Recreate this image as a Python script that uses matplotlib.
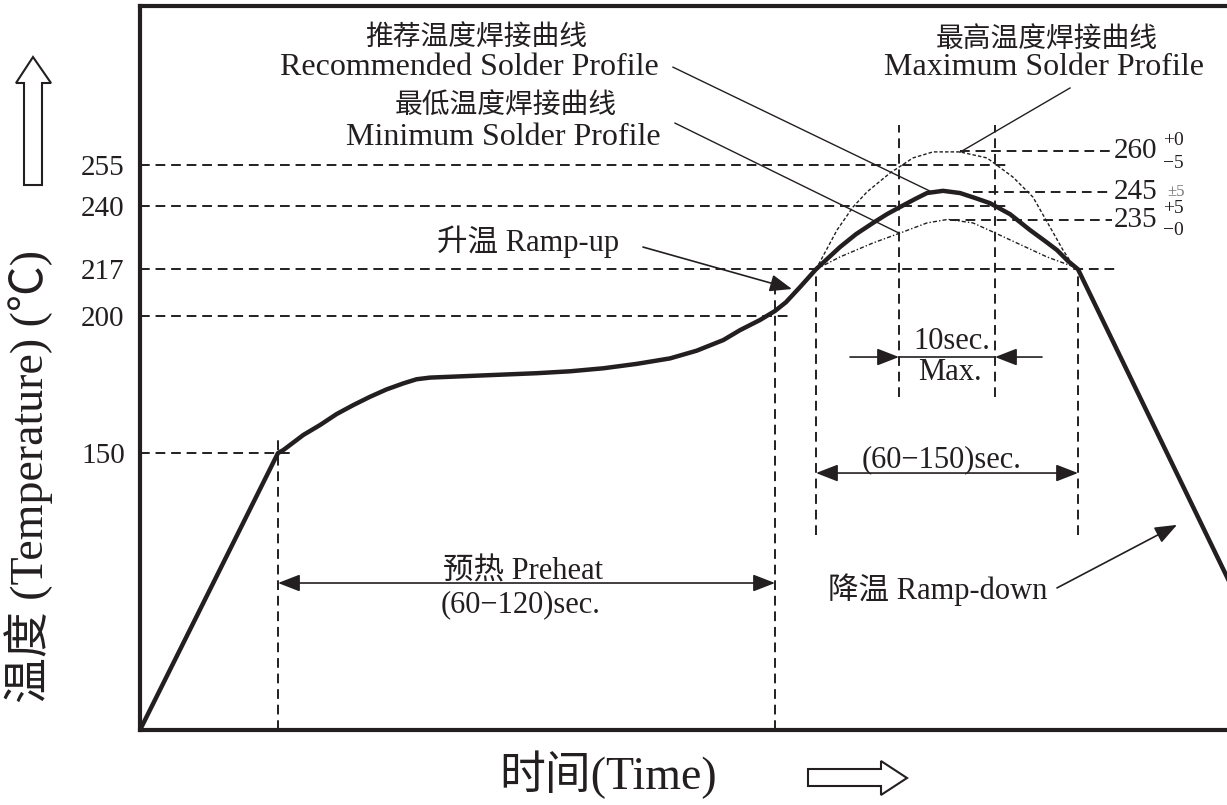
import matplotlib

matplotlib.use("Agg")
import matplotlib.pyplot as plt
import matplotlib.transforms as mtransforms
from matplotlib.patches import Polygon

plt.rcParams["font.family"] = ["Liberation Serif", "Noto Sans CJK SC"]

INK = "#231f20"

# recommended profile (time units are schematic, temperature in degC)
rec_t = [0, 69, 71.7, 81.7, 90, 98.3, 106.7, 115, 123.3, 131.7, 138.3, 145,
         165, 198.3, 215, 231.7, 248.3, 265, 278.3, 291.7, 300, 310, 317.5,
         323, 330, 338, 350, 358, 366.5, 373.5, 380, 387.5, 393.5, 401.5, 410,
         417.5, 425, 435, 445, 452.5, 458.5, 464, 469, 543.5, 580]
rec_T = [49, 150, 151.1, 156.6, 160.2, 164.2, 167.5, 170.5, 173.2, 175.4, 176.9,
         177.5, 178.1, 179.1, 179.8, 180.9, 182.5, 184.5, 187.3, 191.2, 194.8,
         198.5, 201.8, 205.0, 210.5, 217, 225.1, 229.8, 233.9, 237.1, 239.7,
         242.6, 244.8, 245.6, 244.8, 243.0, 241.1, 237.1, 231.3, 227.3, 224.0,
         220.0, 217, 104.8, 49]

# maximum profile
max_t = [338, 348.5, 356.5, 363.5, 375, 386.5, 396.5, 410, 423.5, 436.5, 446.5,
         455, 461.5, 466.5, 469]
max_T = [217, 231.3, 239.7, 245.2, 252.1, 257.6, 259.8, 259.8, 257.6, 250.6,
         243.3, 232.4, 224.0, 218.5, 217]

# minimum profile
min_t = [338, 350, 366.5, 380, 393.5, 404, 416.5, 426.5, 453.5, 466.5, 469]
min_T = [217, 221.5, 226.6, 230.2, 233.9, 235.2, 233.9, 230.6, 221.5, 218, 217]

tick_temps = [150, 200, 217, 240, 255]
tick_labels = ["150", "200", "217", "240", "255"]

# horizontal guide lines: (temperature, start time, end time)
h_levels = [255, 240, 217, 200, 150]
h_start = [0, 0, 0, 0, 0]
h_end = [434, 434, 490, 325, 75]

peak_levels = [260, 245, 235]
peak_start = [410, 416.5, 405]
peak_end = [486, 486, 486]
peak_labels = ["260", "245", "235"]

# vertical guide lines: (time, low temp, high temp)
v_times = [69, 317.5, 338, 469, 379.5, 427.5]
v_low = [49, 49, 120, 120, 170.4, 170.4]
v_high = [154.7, 209.4, 217, 217, 269.6, 269.6]

fig = plt.figure(figsize=(12.27, 8.05), dpi=100)
ax = fig.add_axes([140 / 1227, 75 / 805, 1180 / 1227, 724 / 805])
ax.set_xlim(0, 590)
ax.set_ylim(49, 313)

for side in ["top", "left", "bottom"]:
    ax.spines[side].set_linewidth(3)
    ax.spines[side].set_color(INK)
ax.spines["right"].set_visible(False)

ax.set_xticks([])
ax.set_yticks(tick_temps)
ax.set_yticklabels(tick_labels, fontsize=21, color=INK)
ax.tick_params(axis="y", length=0, pad=11)

dash = (0, (5, 3))
for T, a, b in zip(h_levels, h_start, h_end):
    ax.plot([a, b], [T, T], color=INK, lw=1.4, ls=dash)
for T, a, b in zip(peak_levels, peak_start, peak_end):
    ax.plot([a, b], [T, T], color=INK, lw=1.4, ls=dash)
for t, lo, hi in zip(v_times, v_low, v_high):
    ax.plot([t, t], [lo, hi], color=INK, lw=1.4, ls=dash)

ax.plot(max_t, max_T, color=INK, lw=1.0, ls=(0, (2.5, 1.5)))
ax.plot(min_t, min_T, color=INK, lw=1.0, ls=(0, (3, 1.5, 1, 1.5)))
ax.plot(rec_t, rec_T, color=INK, lw=3.2, solid_joinstyle="round")

# peak value labels
for T, lab in zip(peak_levels, peak_labels):
    ax.text(487, T, lab, fontsize=21, color=INK, ha="left", va="center")
ax.text(511.5, 264.0, "+0", fontsize=14, color=INK, ha="left", va="center")
ax.text(511.5, 255.4, "−5", fontsize=14, color=INK, ha="left", va="center")
ax.text(513.5, 245.2, "±5", fontsize=12, color="#777777", ha="left", va="center")
ax.text(511.5, 239.2, "+5", fontsize=14, color=INK, ha="left", va="center")
ax.text(511.5, 231.0, "−0", fontsize=14, color=INK, ha="left", va="center")

# profile labels and leader lines
cn = dict(fontsize=20, color=INK, ha="center", va="center")
en = dict(fontsize=23, color=INK, ha="center", va="center")
txt = dict(fontsize=22, color=INK, ha="center", va="center")
ax.text(168, 301.5, "推荐温度焊接曲线", **cn)
ax.text(164.5, 290.7, "Recommended Solder Profile", **en)
ax.text(183, 276.6, "最低温度焊接曲线", **cn)
ax.text(181.5, 265.2, "Minimum Solder Profile", **en)
ax.text(453.5, 300.5, "最高温度焊接曲线", **cn)
ax.text(452, 290.7, "Maximum Solder Profile", **en)
ax.plot([266.5, 395], [290.7, 245.5], color=INK, lw=1.0)
ax.plot([267.5, 379.5], [270.3, 230.2], color=INK, lw=1.0)
ax.plot([465, 410], [283.1, 259.7], color=INK, lw=1.0)

ax.text(194, 226.9, "升温 Ramp-up", **txt)
ax.text(399, 100.1, "降温 Ramp-down", **txt)
ax.text(191.5, 106.6, "预热 Preheat", **txt)
ax.text(190.5, 94.6, "(60−120)sec.", **txt)
ax.text(401, 147.5, "(60−150)sec.", **txt)
ax.text(406, 190.5, "10sec.", **txt)
ax.text(405, 179.2, "Max.", **txt)

head = "-|>,head_length=0.9,head_width=0.35"
both = "<|-|>,head_length=0.9,head_width=0.35"
arrow_kw = dict(color=INK, lw=1.2, shrinkA=0, shrinkB=0, mutation_scale=15)
ax.annotate("", xy=(326, 209.8), xytext=(251.5, 225.1),
            arrowprops=dict(arrowstyle=head, **arrow_kw))
ax.annotate("", xy=(518.5, 123.8), xytext=(458.5, 100.8),
            arrowprops=dict(arrowstyle=head, **arrow_kw))
ax.annotate("", xy=(317.5, 102.6), xytext=(69, 102.6),
            arrowprops=dict(arrowstyle=both, **arrow_kw))
ax.annotate("", xy=(469, 142.7), xytext=(338, 142.7),
            arrowprops=dict(arrowstyle=both, **arrow_kw))
ax.plot([379.5, 427.5], [185.0, 185.0], color=INK, lw=1.2)
ax.annotate("", xy=(379.5, 185.0), xytext=(355, 185.0),
            arrowprops=dict(arrowstyle=head, **arrow_kw))
ax.annotate("", xy=(427.5, 185.0), xytext=(451, 185.0),
            arrowprops=dict(arrowstyle=head, **arrow_kw))

# axis titles
fig.text(29 / 1227, 1 - 476 / 805, "温度 (Temperature) (℃)", rotation=90,
         fontsize=33, color=INK, ha="center", va="center")
fig.text(608 / 1227, 1 - 775 / 805, "时间(Time)", fontsize=33, color=INK,
         ha="center", va="center")

# hollow block arrows beside the axis titles (pixel coordinates)
px = mtransforms.Affine2D().scale(1 / 1227, -1 / 805).translate(0, 1) + fig.transFigure
up = [(33, 57), (51, 83), (42, 83), (42, 185), (24, 185), (24, 83), (16, 83)]
right = [(907, 778), (881, 761), (881, 769), (808, 769), (808, 786), (881, 786), (881, 795)]
for pts in (up, right):
    fig.patches.append(Polygon(pts, closed=True, facecolor="white", edgecolor=INK,
                               lw=1.5, transform=px))

fig.savefig("out.png", dpi=100)
